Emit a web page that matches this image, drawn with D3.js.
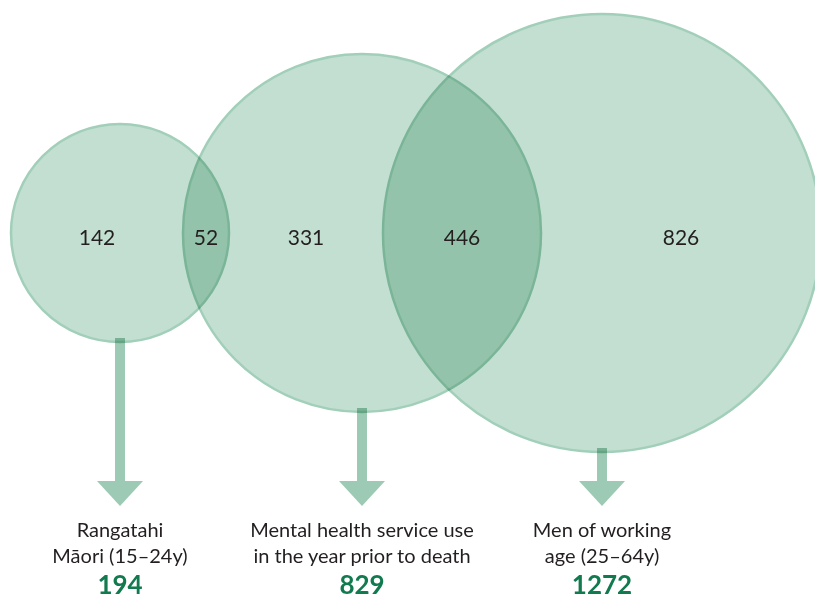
<!DOCTYPE html>
<html>
<head>
<meta charset="utf-8">
<script src="https://cdn.jsdelivr.net/npm/d3@7"></script>
<style>
  body { margin: 0; background: #fff; }
  svg { display: block; }
</style>
</head>
<body>
<div class="chart"></div>
<script>
// group names, split over two lines each
var setLabels = [
  ["Rangatahi", "Māori (15–24y)"],
  ["Mental health service use", "in the year prior to death"],
  ["Men of working", "age (25–64y)"]
];
// totals for each group
var setTotals = [194, 829, 1272];
// counts in each region, left to right
var onlyCounts = [142, 331, 826];
var overlapCounts = [52, 446];

var svgWidth = 815;
var svgHeight = 600;
var cy = 233;
var leftPad = 11;

var svg = d3.select(".chart")
  .append("svg")
  .attr("width", svgWidth)
  .attr("height", svgHeight);

// radius and overlap depth scales
var rScale = d3.scaleLinear()
  .domain([194, 829, 1272])
  .range([109, 179, 219]);

var overlapScale = d3.scaleLinear()
  .domain([52, 446])
  .range([46, 158]);

// chain the circles left to right
var circles = [];
setTotals.forEach(function(t, i) {
  var r = rScale(t);
  var cx;
  if (i === 0) {
    cx = leftPad + r;
  } else {
    var prev = circles[i - 1];
    cx = prev.cx + prev.r + r - overlapScale(overlapCounts[i - 1]);
  }
  circles.push({ cx: cx, r: r, total: t, label: setLabels[i] });
});

// arrows sit under the circles
var arrowColor = "#9ccab4";
var headTop = 481, headTip = 506, headHalf = 23, shaft = 10;

var arrows = svg.append("g");
arrows.selectAll("rect")
  .data(circles)
  .enter()
  .append("rect")
  .attr("x", d => d.cx - shaft / 2)
  .attr("y", d => cy + d.r - 4)
  .attr("width", shaft)
  .attr("height", d => headTop - (cy + d.r - 4) + 1)
  .attr("fill", arrowColor);

arrows.selectAll("path")
  .data(circles)
  .enter()
  .append("path")
  .attr("d", d => `M${d.cx - headHalf},${headTop}L${d.cx + headHalf},${headTop}L${d.cx},${headTip}Z`)
  .attr("fill", arrowColor);

// circles, multiply blend gives the darker overlaps
svg.append("g")
  .selectAll("circle")
  .data(circles)
  .enter()
  .append("circle")
  .attr("cx", d => d.cx)
  .attr("cy", cy)
  .attr("r", d => d.r)
  .attr("fill", "#c2dfd1")
  .attr("stroke", "#a2cfb9")
  .attr("stroke-width", 2.5)
  .style("mix-blend-mode", "multiply");

// region edges, used to centre the counts
var edges = [];
circles.forEach(function(c) {
  edges.push(c.cx - c.r, Math.min(c.cx + c.r, svgWidth + 12));
});
edges.sort(d3.ascending);
var regionCounts = [onlyCounts[0], overlapCounts[0], onlyCounts[1], overlapCounts[1], onlyCounts[2]];
var regions = regionCounts.map(function(v, i) {
  return { v: v, x: (edges[i] + edges[i + 1]) / 2 };
});

svg.append("g")
  .selectAll("text")
  .data(regions)
  .enter()
  .append("text")
  .attr("x", d => d.x)
  .attr("y", cy + 12)
  .attr("text-anchor", "middle")
  .style("font", "21px Lato, sans-serif")
  .attr("fill", "#231f20")
  .text(d => d.v);

// labels under the arrows
var labels = svg.append("g")
  .selectAll("g")
  .data(circles)
  .enter()
  .append("g")
  .attr("transform", d => `translate(${d.cx}, 0)`);

labels.selectAll("text.lbl")
  .data(d => d.label)
  .enter()
  .append("text")
  .attr("class", "lbl")
  .attr("y", (d, i) => 537 + i * 26)
  .attr("text-anchor", "middle")
  .style("font", "20px Lato, sans-serif")
  .attr("fill", "#231f20")
  .text(d => d);

labels.append("text")
  .attr("y", 594)
  .attr("text-anchor", "middle")
  .style("font", "bold 26px Lato, sans-serif")
  .attr("fill", "#117a4e")
  .text(d => d.total);
</script>
</body>
</html>
